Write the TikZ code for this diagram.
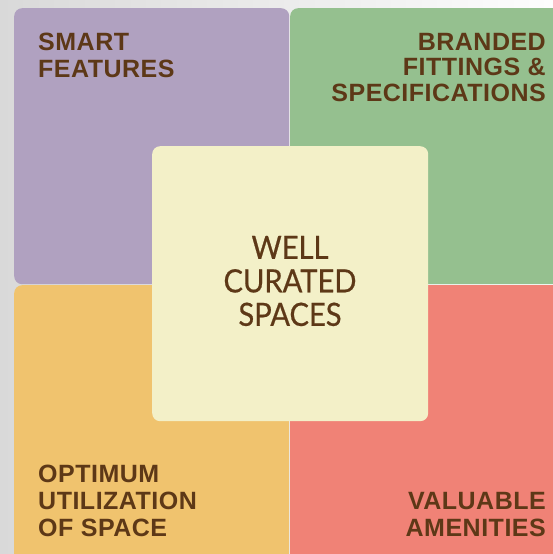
\documentclass[tikz,border=0pt]{standalone}
\usepackage{fontspec}
\setmainfont{Liberation Sans}[LetterSpace=2]
\newfontfamily\centrefont{Lato}[FakeStretch=0.91, FakeBold=0.6]

\definecolor{smartpurple}{HTML}{B0A1C0}
\definecolor{brandgreen}{HTML}{95C08F}
\definecolor{spaceorange}{HTML}{F0C36E}
\definecolor{amenityred}{HTML}{F08276}
\definecolor{curatedcream}{HTML}{F3F0C8}
\definecolor{labelbrown}{HTML}{5D3817}
\definecolor{pagegrey}{HTML}{D9D9D9}

\begin{document}
\begin{tikzpicture}[x=1pt, y=-1pt,
  quad/.style={rectangle, rounded corners=8pt, inner sep=0pt, anchor=north west},
  lbl/.style={inner sep=0pt, text=labelbrown, font=\fontsize{25}{27}\selectfont\bfseries}]
% background
\shade[left color=pagegrey, right color=white!95!pagegrey] (0,0) rectangle (553,554);
\useasboundingbox (0,0) rectangle (553,554);
% four quadrants
\node[quad, fill=smartpurple, minimum width=275pt, minimum height=276pt] (SF) at (14,8) {};
\node[quad, fill=brandgreen, minimum width=275pt, minimum height=276pt] (BF) at (290,8) {};
\node[quad, fill=spaceorange, minimum width=275pt, minimum height=277pt] (OU) at (14,285) {};
\node[quad, fill=amenityred, minimum width=275pt, minimum height=277pt] (VA) at (290,285) {};
% centre square
\node[quad, fill=curatedcream, minimum width=276pt, minimum height=275pt] (WC) at (152,146) {};
\node[inner sep=0pt, text=labelbrown, align=center, font=\centrefont\fontsize{32}{33.5}\selectfont] (WCtext) at (290,281) {WELL\\CURATED\\SPACES};
% labels
\node[lbl, anchor=north west, align=left] (SFtext) at (38,33) {SMART\\FEATURES};
\node[lbl, anchor=north east, align=right, font=\fontsize{25}{25.5}\selectfont\bfseries] (BFtext) at (546,33) {BRANDED\\FITTINGS \&\\SPECIFICATIONS};
\node[lbl, anchor=south west, align=left] (OUtext) at (38,537) {OPTIMUM\\UTILIZATION\\OF SPACE};
\node[lbl, anchor=south east, align=right] (VAtext) at (546,537) {VALUABLE\\AMENITIES};
\end{tikzpicture}
\end{document}
